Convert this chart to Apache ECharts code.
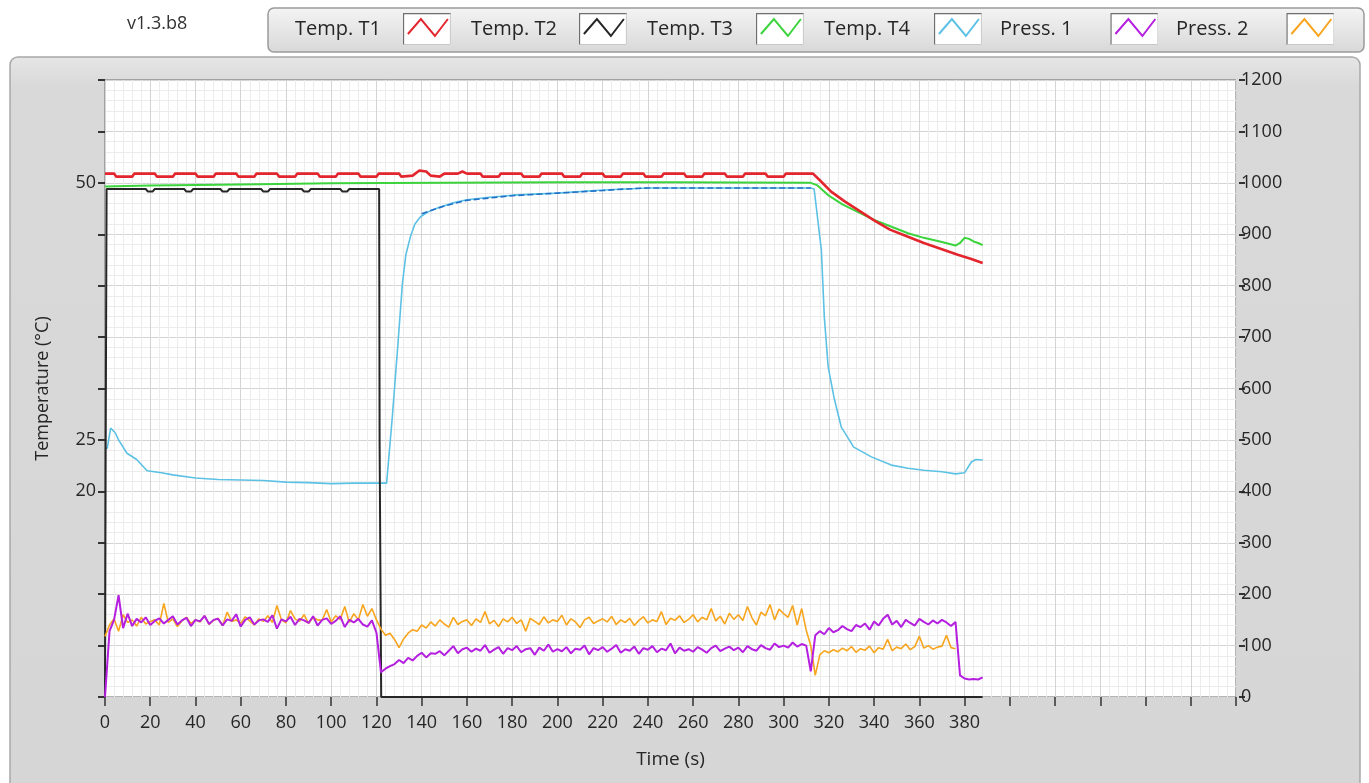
<!DOCTYPE html>
<html>
<head>
<meta charset="utf-8">
<title>Temperature / pressure log</title>
<script src="https://cdn.jsdelivr.net/npm/echarts@6.0.0/dist/echarts.min.js"></script>
<style>
  html, body { margin: 0; padding: 0; background: #fff; }
  #chart { width: 1369px; height: 783px; }
</style>
</head>
<body>
<div id="chart"></div>
<script>
// --- data (right axis units) ---
const seriesNames = ['Temp. T1', 'Temp. T2', 'Temp. T3', 'Temp. T4', 'Press. 1', 'Press. 2'];
const seriesColors = ['#e3262d', '#262626', '#3cd43c', '#5cc1e4', '#b41fe0', '#f7a51e'];
const xTickLabels = [0, 20, 40, 60, 80, 100, 120, 140, 160, 180, 200, 220, 240, 260, 280, 300, 320, 340, 360, 380];
const leftTickLabels = [20, 25, 50];

const tempT1 = [
  [0, 1018], [4, 1018], [5, 1012], [12, 1012], [13, 1018], [22, 1018], [23, 1012], [30, 1012],
  [31, 1018], [40, 1018], [41, 1012], [48, 1012], [49, 1018], [58, 1018], [59, 1012], [66, 1012],
  [67, 1018], [76, 1018], [77, 1012], [84, 1012], [85, 1018], [94, 1018], [95, 1012], [102, 1012],
  [103, 1018], [112, 1018], [113, 1012], [120, 1012], [121, 1018], [130, 1018], [131, 1012],
  [136, 1014], [139, 1024], [142, 1022], [144, 1014], [148, 1012], [150, 1018], [156, 1018],
  [158, 1022], [160, 1018], [166, 1018], [167, 1012], [174, 1012], [175, 1018], [184, 1018],
  [185, 1012], [192, 1012], [193, 1018], [202, 1018], [203, 1012], [210, 1012], [211, 1018],
  [220, 1018], [221, 1012], [228, 1012], [229, 1018], [238, 1018], [239, 1012], [246, 1012],
  [247, 1018], [256, 1018], [257, 1012], [264, 1012], [265, 1018], [274, 1018], [275, 1012],
  [282, 1012], [283, 1018], [292, 1018], [293, 1012], [300, 1012], [301, 1018], [313, 1018],
  [316, 1005], [321, 983], [327, 964], [333, 947], [340, 927], [347, 909], [355, 895],
  [362, 883], [370, 871], [377, 860], [383, 852], [388, 844]
];
const tempT2 = [
  [0, 0], [0.3, 490], [0.7, 988], [18, 988], [19, 983], [21, 983], [22, 988], [35, 988],
  [36, 983], [38, 983], [39, 988], [51, 988], [52, 983], [54, 983], [55, 988], [69, 988],
  [70, 983], [72, 983], [73, 988], [87, 988], [88, 983], [90, 983], [91, 988], [104, 988],
  [105, 983], [107, 983], [108, 988], [121.2, 988], [121.4, 495], [121.8, 495], [122.1, 0], [388, 0]
];
const tempT3 = [
  [0, 993], [20, 995], [60, 997], [100, 999], [150, 1000], [200, 1001], [250, 1001], [312, 1000],
  [315, 995], [320, 975], [326, 958], [333, 943], [340, 928], [348, 914], [355, 902], [362, 893],
  [370, 885], [376, 878], [378, 883], [380, 893], [382, 891], [384, 886], [386, 883], [388, 879]
];
const tempT4 = [
  [0, 484], [1, 484], [2.5, 523], [4.5, 514], [6, 500], [9.7, 474], [14, 462], [18.6, 440],
  [25, 436], [30, 432], [40, 426], [50, 423], [60, 422], [70, 421], [80, 418], [90, 417],
  [100, 415], [110, 416], [124.5, 416], [127, 544], [129.3, 675], [131.5, 805], [133, 860],
  [135, 895], [137, 920], [139.5, 934], [143, 944], [147, 951], [153, 960], [160, 967],
  [170, 972], [180, 976], [200, 980], [220, 986], [240, 990], [312, 990], [313.5, 988],
  [316.7, 869], [318, 739], [319.7, 642], [322.5, 578], [325.5, 525], [331, 486], [338.8, 467],
  [347.6, 451], [355, 445], [362, 441], [370, 438], [376, 434], [380, 436], [383, 457],
  [385, 462], [388, 461]
];
// darker blue trace lying on T4 (no legend entry)
const tempT4Overlay = [
  [140, 940], [150, 955], [160, 966], [180, 975], [200, 980], [220, 985], [230, 988], [240, 990], [312, 990]
];

// pressures sampled every 2 s, in three segments
const press1A = [ // t = 0 .. 120
  0, 128, 150, 198, 134, 162, 138, 152, 145, 155,
  140, 148, 153, 143, 150, 157, 141, 149, 154, 138,
  150, 147, 158, 142, 150, 152, 139, 151, 148, 161,
  137, 150, 155, 141, 149, 151, 146, 159, 133, 151,
  147, 156, 140, 152, 149, 144, 157, 139, 150, 153,
  142, 148, 157, 136, 150, 145, 152, 141, 137, 149,
  125
];
const press1B = [ // t = 122 .. 312
  48, 55, 60, 64, 72, 66, 76, 71, 80, 86,
  77, 85, 84, 89, 81, 90, 99, 85, 93, 96,
  88, 94, 90, 101, 86, 92, 97, 84, 95, 91,
  99, 87, 93, 95, 82, 96, 90, 102, 88, 93,
  89, 97, 85, 94, 92, 100, 83, 95, 91, 97,
  88, 94, 101, 86, 93, 90, 98, 84, 95, 92,
  99, 87, 94, 91, 104, 85, 96, 90, 93, 88,
  97, 92, 86, 95, 100, 89, 94, 98, 91, 96,
  87, 99, 93, 90, 101, 95, 92, 104, 97, 100,
  96, 106, 98, 103, 100, 50
];
const press1C = [ // t = 314 .. 388
  120, 128, 122, 134, 126, 130, 138, 132, 128, 140,
  136, 143, 131, 147, 139, 152, 160, 141, 148, 136,
  150, 144, 139, 152, 146, 141, 149, 143, 150, 145,
  138, 146, 42, 36, 34, 35, 34, 38
];
const press2A = [ // t = 0 .. 120
  118, 140, 152, 128, 160, 145, 150, 138, 155, 142,
  147, 150, 140, 182, 145, 152, 137, 148, 155, 143,
  150, 146, 158, 141, 149, 153, 139, 165, 147, 150,
  143, 156, 148, 140, 152, 147, 158, 145, 178, 150,
  144, 168, 152, 147, 160, 143, 155, 150, 149, 170,
  146, 158, 151, 176, 145, 162, 150, 180, 157, 172,
  150
];
const press2B = [ // t = 122 .. 312
  132, 120, 124, 112, 96, 113, 124, 131, 128, 140,
  134, 146, 138, 150, 142, 136, 155, 141, 147, 150,
  139, 152, 145, 166, 142, 149, 137, 152, 146, 155,
  143, 150, 128, 153, 147, 141, 156, 144, 150, 147,
  159, 140, 152, 146, 135, 150, 155, 143, 148, 152,
  146, 157, 141, 150, 145, 153, 139, 149, 156, 144,
  150, 147, 166, 141, 153, 149, 158, 145, 151, 160,
  146, 155, 150, 172, 148, 157, 142, 163, 151, 160,
  149, 176, 154, 140, 165, 158, 180, 150, 171, 162,
  155, 178, 140, 172, 130, 100
];
const press2C = [ // t = 314 .. 376
  42, 82, 90, 86, 92, 88, 95, 90, 98, 87,
  94, 91, 99, 86, 96, 93, 112, 90, 97, 94,
  103, 92, 98, 118, 95, 100, 93, 97, 99, 120,
  96, 94
];

function sampled(start, values) {
  return values.map((v, i) => [start + i * 2, v]);
}
const press1 = [].concat(sampled(0, press1A), sampled(122, press1B), sampled(314, press1C));
const press2 = [].concat(sampled(0, press2A), sampled(122, press2B), sampled(314, press2C));

function swatch(color) {
  const svg = "<svg xmlns='http://www.w3.org/2000/svg' width='48' height='32'>" +
    "<rect x='0' y='0' width='48' height='32' fill='#fff'/>" +
    "<path d='M0.5 32 L0.5 0.5 L48 0.5' fill='none' stroke='#6e6e6e' stroke-width='1.5'/>" +
    "<path d='M47.5 0.5 L47.5 31.5 L0.5 31.5' fill='none' stroke='#c8c8c8' stroke-width='1'/>" +
    "<polyline points='5,21 18,6 32,23 45,6' fill='none' stroke='" + color + "' stroke-width='2'/>" +
    "</svg>";
  return 'image://data:image/svg+xml;charset=utf-8,' + encodeURIComponent(svg);
}

const labelFont = { fontFamily: 'Open Sans', fontSize: 18, color: '#262626' };
const lineData = [tempT1, tempT2, tempT3, tempT4, press1, press2];
const lineWidths = [2.6, 2, 2, 1.6, 2, 1.6];

const series = lineData.map((d, i) => ({
  name: seriesNames[i],
  type: 'line',
  yAxisIndex: 1,
  data: d,
  showSymbol: false,
  animation: false,
  lineStyle: { color: seriesColors[i], width: lineWidths[i] },
  itemStyle: { color: seriesColors[i] },
  z: [5, 3, 4, 2, 7, 6][i]
}));
series.push({
  name: 'T4 trace',
  type: 'line',
  yAxisIndex: 1,
  data: tempT4Overlay,
  showSymbol: false,
  animation: false,
  lineStyle: { color: '#2170c8', width: 1.6, type: [6, 3] },
  z: 2
});

// LabVIEW style legend: fixed slots, name then swatch
const legendLeft = [295, 471, 647, 824, 1000, 1176];
const legendPadRight = [17, 17, 18, 19, 33, 33];
const legends = seriesNames.map((n, i) => ({
  left: legendLeft[i],
  top: 13,
  padding: 0,
  align: 'right',
  itemWidth: 48,
  itemHeight: 32,
  selectedMode: false,
  textStyle: { fontFamily: 'Open Sans', fontSize: 20, color: '#262626', padding: [0, legendPadRight[i], 0, 0] },
  data: [{ name: n, icon: swatch(seriesColors[i]) }]
}));

const chart = echarts.init(document.getElementById('chart'));
chart.setOption({
  animation: false,
  backgroundColor: '#fff',
  title: {
    text: 'v1.3.b8',
    left: 122,
    top: 10,
    textStyle: { fontFamily: 'Open Sans', fontSize: 18, fontWeight: 'normal', color: '#333' }
  },
  graphic: [
    {
      type: 'rect', z: -10,
      shape: { x: 10, y: 57, width: 1350, height: 740, r: 8 },
      style: {
        fill: new echarts.graphic.LinearGradient(0, 0, 0, 1, [
          { offset: 0, color: '#e6e6e6' }, { offset: 0.04, color: '#d9d9d9' }, { offset: 1, color: '#d6d6d6' }
        ]),
        stroke: '#a8a8a8', lineWidth: 1.5
      }
    },
    {
      type: 'rect', z: -10,
      shape: { x: 268, y: 8, width: 1096, height: 44, r: 6 },
      style: {
        fill: new echarts.graphic.LinearGradient(0, 0, 0, 1, [
          { offset: 0, color: '#f4f4f4' }, { offset: 1, color: '#d8d8d8' }
        ]),
        stroke: '#9a9a9a', lineWidth: 1.5
      }
    }
  ],
  legend: legends,
  grid: {
    left: 105,
    right: 133,
    top: 80,
    bottom: 86,
    show: true,
    backgroundColor: '#fff',
    borderColor: '#6a6a6a',
    borderWidth: 1
  },
  xAxis: {
    type: 'value',
    min: 0,
    max: 500,
    interval: 20,
    offset: 5,
    name: 'Time (s)',
    nameLocation: 'middle',
    nameGap: 48,
    nameTextStyle: { fontFamily: 'Open Sans', fontSize: 19, color: '#262626' },
    axisLine: { show: false },
    axisTick: { show: true, length: 9, lineStyle: { color: '#333', width: 1.5 } },
    axisLabel: Object.assign({ margin: 12, formatter: v => (xTickLabels.indexOf(v) >= 0 ? String(v) : '') }, labelFont),
    splitLine: { show: true, lineStyle: { color: '#d4d4d4', width: 1 } },
    minorTick: { show: false, splitNumber: 5 },
    minorSplitLine: { show: true, lineStyle: { color: '#ececec', width: 1 } }
  },
  yAxis: [
    {
      type: 'value',
      min: 0,
      max: 60,
      interval: 5,
      position: 'left',
      offset: 5,
      name: 'Temperature (°C)',
      nameLocation: 'middle',
      nameGap: 48,
      nameTextStyle: { fontFamily: 'Open Sans', fontSize: 18, color: '#262626' },
      axisLine: { show: false },
      axisTick: { show: true, length: 7, lineStyle: { color: '#333', width: 2 } },
      axisLabel: Object.assign({ margin: 4, formatter: v => (leftTickLabels.indexOf(v) >= 0 ? String(v) : '') }, labelFont),
      splitLine: { show: false }
    },
    {
      type: 'value',
      min: 0,
      max: 1200,
      interval: 100,
      position: 'right',
      offset: 3,
      axisLine: { show: false },
      axisTick: { show: true, length: 6, lineStyle: { color: '#333', width: 2 } },
      axisLabel: Object.assign({ margin: 2, formatter: v => String(v) }, labelFont),
      splitLine: { show: true, lineStyle: { color: '#d4d4d4', width: 1 } },
      minorTick: { show: false, splitNumber: 5 },
      minorSplitLine: { show: true, lineStyle: { color: '#ececec', width: 1 } }
    }
  ],
  series: series
});
</script>
</body>
</html>
